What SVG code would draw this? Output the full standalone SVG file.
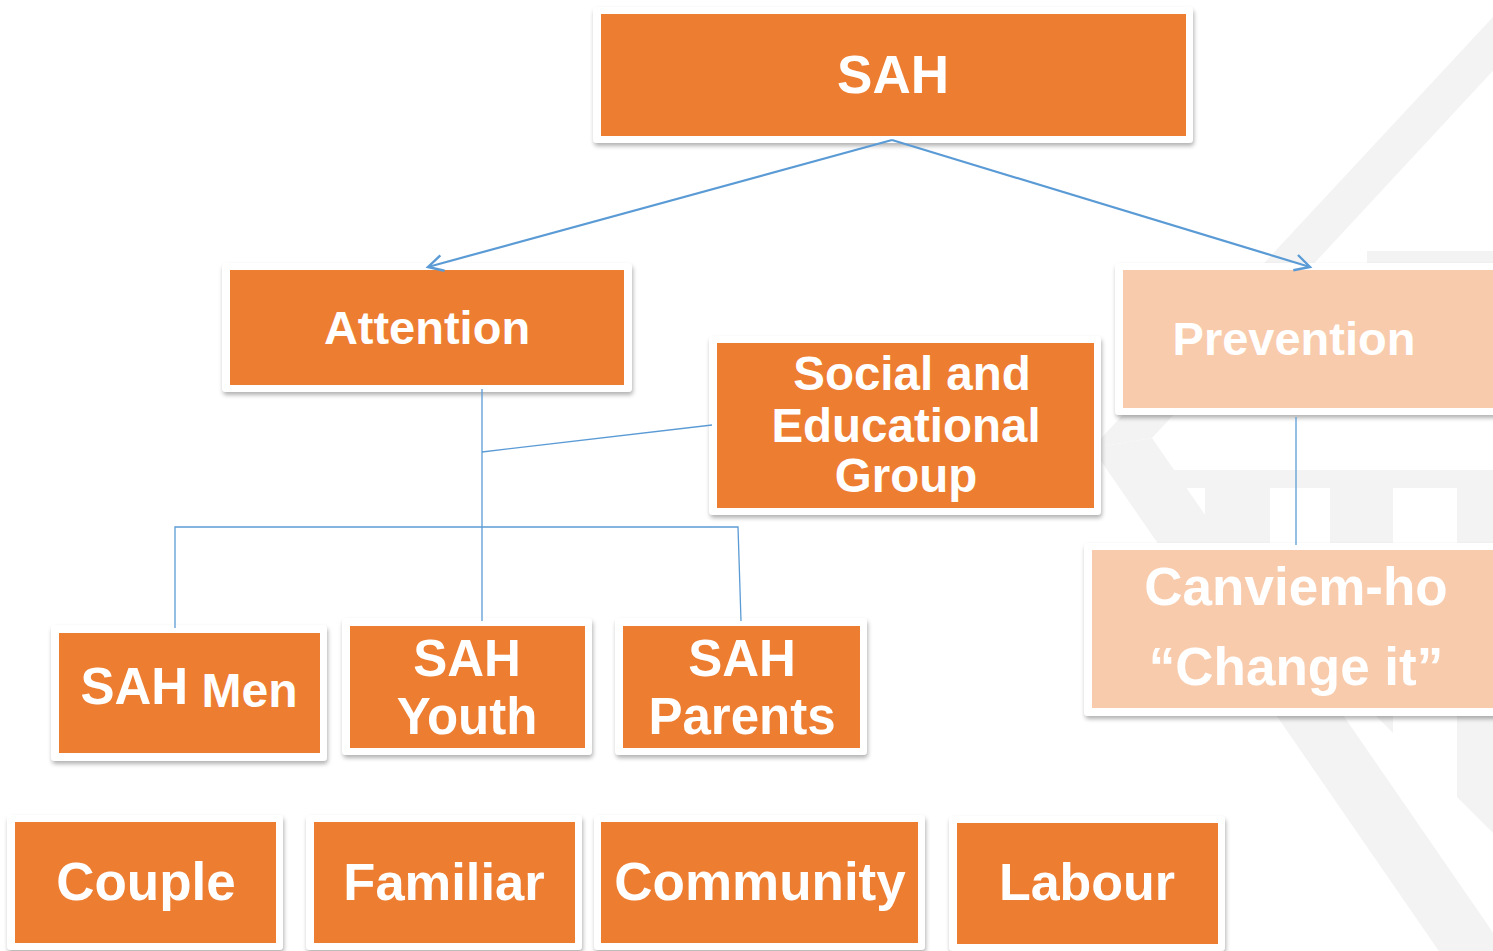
<svg xmlns="http://www.w3.org/2000/svg" width="1493" height="951" viewBox="0 0 1493 951">
<defs>
<style>
.wm{fill:#f3f3f3}
.frame{fill:#ffffff;filter:url(#sh)}
.o{fill:#ed7d31}
.p{fill:#f8cbad}
.t{font-family:"Liberation Sans",Arial,sans-serif;font-weight:bold;fill:#ffffff;text-anchor:middle}
.ln{stroke:#5b9bd5;stroke-width:1.3;fill:none}
.ar{stroke:#5b9bd5;stroke-width:2.2;fill:none;marker-end:url(#ah)}
</style>
<filter id="sh" x="-10%" y="-10%" width="120%" height="130%">
<feDropShadow dx="1" dy="3" stdDeviation="2" flood-color="#000" flood-opacity="0.3"/>
</filter>
<marker id="ah" markerUnits="userSpaceOnUse" markerWidth="24" markerHeight="24" viewBox="0 0 24 24" refX="20" refY="12" orient="auto">
<path d="M5,4 L20,12 L5,20" fill="none" stroke="#5b9bd5" stroke-width="2.4"/>
</marker>
</defs>
<rect width="1493" height="951" fill="#ffffff"/>
<g id="watermark">
<polygon class="wm" points="1092,448 1518,-10 1568,-10 1152,438"/>
<polygon class="wm" points="1092,448 1152,438 1512,960 1445,960"/>
<polygon class="wm" points="1143,479 1152,470 1493,470 1493,488 1152,488"/>
<polygon class="wm" points="1205,488 1270,488 1270,610 1205,545"/>
<polygon class="wm" points="1330,488 1393,488 1393,733 1330,670"/>
<polygon class="wm" points="1457,488 1493,488 1493,833 1457,797"/>
<rect class="wm" x="1367" y="251" width="126" height="12"/>
</g>
<g id="n-sah">
<rect class="frame" x="593" y="7" width="600" height="136" rx="4"/>
<rect class="o" x="601" y="14" width="585" height="122"/>
<text class="t" x="893" y="93" font-size="53">SAH</text>
</g>
<g id="n-attention">
<rect class="frame" x="222" y="263" width="410" height="129" rx="4"/>
<rect class="o" x="230" y="270" width="394" height="115"/>
<text class="t" x="427" y="344" font-size="47">Attention</text>
</g>
<g id="n-social">
<rect class="frame" x="709" y="336" width="392" height="179" rx="4"/>
<rect class="o" x="717" y="343" width="377" height="165"/>
<text class="t" font-size="47.5"><tspan x="912" y="390">Social and</tspan><tspan x="906" y="442">Educational</tspan><tspan x="906" y="492">Group</tspan></text>
</g>
<g id="n-prevention">
<rect class="frame" x="1115" y="263" width="390" height="152" rx="4"/>
<rect class="p" x="1123" y="270" width="380" height="138"/>
<text class="t" x="1294" y="355" font-size="47">Prevention</text>
</g>
<g id="n-canviem">
<rect class="frame" x="1084" y="543" width="420" height="173" rx="4"/>
<rect class="p" x="1092" y="550" width="410" height="158"/>
<text class="t" font-size="53"><tspan x="1296" y="605">Canviem-ho</tspan><tspan x="1296" y="685">“Change it”</tspan></text>
</g>
<g id="n-sahmen">
<rect class="frame" x="51" y="625" width="276" height="136" rx="4"/>
<rect class="o" x="59" y="633" width="261" height="120"/>
<text class="t" x="189" y="707"><tspan font-size="51" dy="-3">SAH</tspan><tspan font-size="48" dy="3"> Men</tspan></text>
</g>
<g id="n-sahyouth">
<rect class="frame" x="342" y="618" width="250" height="137" rx="4"/>
<rect class="o" x="350" y="626" width="235" height="122"/>
<text class="t" font-size="51"><tspan x="467" y="676">SAH</tspan><tspan x="467" y="734">Youth</tspan></text>
</g>
<g id="n-sahparents">
<rect class="frame" x="615" y="618" width="252" height="137" rx="4"/>
<rect class="o" x="623" y="626" width="237" height="122"/>
<text class="t" font-size="51"><tspan x="742" y="676">SAH</tspan><tspan x="742" y="734">Parents</tspan></text>
</g>
<g id="n-couple">
<rect class="frame" x="7" y="815" width="276" height="135" rx="4"/>
<rect class="o" x="15" y="822" width="261" height="121"/>
<text class="t" x="146" y="900" font-size="53">Couple</text>
</g>
<g id="n-familiar">
<rect class="frame" x="306" y="815" width="276" height="135" rx="4"/>
<rect class="o" x="314" y="822" width="261" height="121"/>
<text class="t" x="444" y="900" font-size="52.5">Familiar</text>
</g>
<g id="n-community">
<rect class="frame" x="594" y="815" width="331" height="135" rx="4"/>
<rect class="o" x="601" y="822" width="317" height="121"/>
<text class="t" x="760" y="900" font-size="53">Community</text>
</g>
<g id="n-labour">
<rect class="frame" x="949" y="816" width="276" height="135" rx="4"/>
<rect class="o" x="957" y="823" width="261" height="121"/>
<text class="t" x="1087" y="900" font-size="52">Labour</text>
</g>
<g id="connectors">
<line class="ar" x1="892" y1="140" x2="428" y2="267"/>
<line class="ar" x1="892" y1="140" x2="1310" y2="267"/>
<line class="ln" x1="482" y1="389" x2="482" y2="621"/>
<line class="ln" x1="482" y1="452" x2="712" y2="425"/>
<polyline class="ln" points="175,628 175,527 738,527 741,621"/>
<line class="ln" x1="1296" y1="417" x2="1296" y2="545"/>
</g>
</svg>
